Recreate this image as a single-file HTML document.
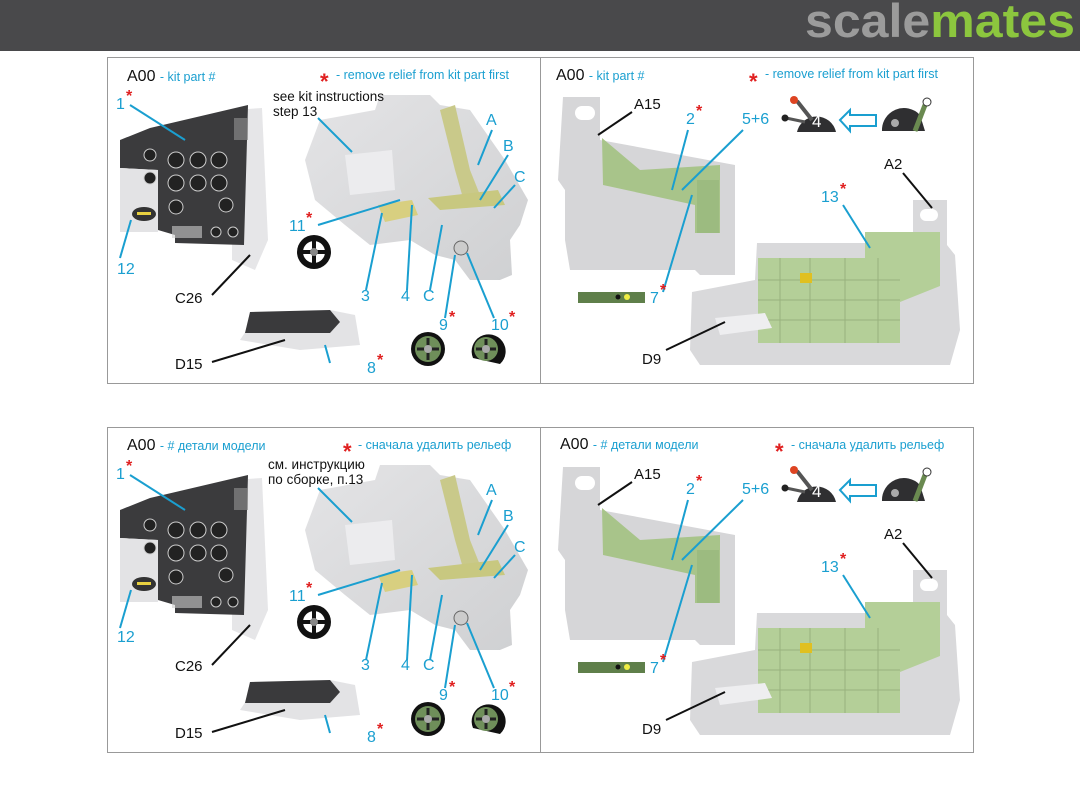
<!DOCTYPE html>
<html><head><meta charset="utf-8"><style>
html,body{margin:0;padding:0;background:#fff;width:1080px;height:810px;overflow:hidden}
svg{display:block}
text{font-family:"Liberation Sans","DejaVu Sans",sans-serif}
.c{fill:#1a9fd0;font-size:16px}
.s{fill:#1a9fd0;font-size:12.5px}
.k{fill:#111;font-size:15px}
.r{fill:#e02020;font-size:16px;font-weight:bold}
.h{fill:#111;font-size:16px}
.lb{stroke:#1a9fd0;stroke-width:2;fill:none}
.lk{stroke:#111;stroke-width:2;fill:none}
</style></head><body>
<svg width="1080" height="810" viewBox="0 0 1080 810" xmlns="http://www.w3.org/2000/svg">
<defs>
<linearGradient id="gg" x1="0" y1="0" x2="1" y2="1"><stop offset="0" stop-color="#e4e4e6"/><stop offset="1" stop-color="#cfd0d2"/></linearGradient>
<g id="art">
 <path d="M232,110 L262,108 L268,240 L255,270 L232,260 Z" fill="#e6e6e8"/>
 <path d="M248,105 L244,245 L175,243 L175,235 L158,230 L158,170 L120,168 L120,140 L150,128 Z" fill="#3b3b3d"/>
 <path d="M120,168 L158,170 L158,232 L120,232 Z" fill="#e3e3e5"/>
 <ellipse cx="144" cy="214" rx="12" ry="7" fill="#333"/><rect x="137" y="212" width="14" height="3" fill="#e8d040"/>
 <g fill="#222" stroke="#ccc" stroke-width="1">
  <circle cx="176" cy="160" r="8"/><circle cx="198" cy="160" r="8"/><circle cx="219" cy="160" r="8"/>
  <circle cx="176" cy="183" r="8"/><circle cx="198" cy="183" r="8"/><circle cx="219" cy="183" r="8"/>
  <circle cx="150" cy="155" r="6"/><circle cx="150" cy="178" r="6"/><circle cx="176" cy="207" r="7"/><circle cx="226" cy="205" r="7"/>
  <circle cx="216" cy="232" r="5"/><circle cx="233" cy="232" r="5"/>
 </g>
 <rect x="172" y="226" width="30" height="12" fill="#ccc" opacity=".6"/>
 <rect x="234" y="118" width="14" height="22" fill="#888" opacity=".7"/>
 <path d="M320,120 L375,110 L380,95 L430,95 L440,105 L470,110 L505,160 L528,200 L520,225 L510,240 L512,275 L500,280 L470,280 L455,260 L435,255 L410,240 L370,245 L345,225 L315,200 L305,160 Z" fill="url(#gg)"/>
 <path d="M345,155 L392,150 L395,190 L350,195 Z" fill="#ececee"/>
 <path d="M378,205 L412,200 L418,215 L385,222 Z" fill="#d8cf80"/>
 <path d="M440,110 L455,105 L470,170 L482,200 L465,205 L455,170 Z" fill="#c9c98a"/>
 <path d="M428,198 L498,190 L505,205 L440,210 Z" fill="#c8c880"/>
 <circle cx="461" cy="248" r="7" fill="#ccc" stroke="#666"/>
 <circle cx="314" cy="252" r="17" fill="#111"/><circle cx="314" cy="252" r="11" fill="#fff"/><path d="M303,252h22M314,241v22" stroke="#111" stroke-width="4"/><circle cx="314" cy="252" r="4" fill="#888"/>
 <circle cx="428" cy="349" r="17" fill="#111"/><circle cx="428" cy="349" r="13" fill="#6f8f5a"/><path d="M417,349h22M428,338v22" stroke="#222" stroke-width="3"/><circle cx="428" cy="349" r="4" fill="#aaa"/>
 <path d="M473,358 A17,17 0 1 1 500,364 Z" fill="#111"/><circle cx="486" cy="349" r="12" fill="#6f8f5a"/><path d="M476,349h20M486,339v20" stroke="#222" stroke-width="3"/><circle cx="486" cy="349" r="4" fill="#aaa"/>
 <path d="M250,325 L330,310 L355,315 L360,345 L300,350 L240,340 Z" fill="#e3e3e5"/>
 <path d="M250,312 L330,310 L340,322 L330,333 L245,333 Z" fill="#3a3a3c"/>
 <path d="M563,97 L600,97 L600,140 L735,165 L735,275 L700,275 L695,270 L570,270 L565,240 L565,190 L558,180 Z" fill="#d6d6d8"/>
 <rect x="575" y="106" width="20" height="14" rx="7" fill="#fff"/>
 <path d="M602,138 L640,170 L720,165 L720,233 L695,233 L695,205 L603,185 Z" fill="#a8c48a"/>
 <rect x="697" y="180" width="22" height="53" fill="#9cbb80"/>
 <rect x="578" y="292" width="67" height="11" fill="#5f7f4a"/><circle cx="618" cy="297" r="2.5" fill="#111"/><circle cx="627" cy="297" r="3" fill="#ee4"/>
 <path d="M797,132 A20,20 0 0 1 836,132 Z" fill="#2f2f31"/><path d="M797,101 L812,120" stroke="#555" stroke-width="4"/><circle cx="794" cy="100" r="4" fill="#d42"/><path d="M786,118 L805,122" stroke="#555" stroke-width="3"/><circle cx="785" cy="118" r="3.5" fill="#222"/>
 <path d="M840,120 L850,110 L850,115 L876,115 L876,126 L850,126 L850,131 Z" fill="#fff" stroke="#1a9fd0" stroke-width="2"/>
 <path d="M882,131 A22,22 0 0 1 920,115 L925,131 Z" fill="#2f2f31"/><path d="M915,131 L925,105" stroke="#6a8a50" stroke-width="5"/><circle cx="927" cy="102" r="4" fill="#fff" stroke="#333"/><circle cx="895" cy="123" r="4" fill="#aaa"/>
 <path d="M913,200 L947,200 L947,245 L955,255 L960,330 L950,365 L700,365 L690,350 L692,292 L755,280 L757,243 L913,243 Z" fill="#d9d9db"/>
 <rect x="920" y="209" width="18" height="12" rx="6" fill="#fff"/>
 <path d="M865,232 L940,232 L940,286 L900,302 L900,343 L758,343 L758,258 L865,258 Z" fill="#b4cf98"/>
 <g stroke="#98b27e" stroke-width="1"><path d="M758,280h142M758,300h142M758,320h142M780,258v85M810,258v85M845,258v85M878,258v85"/></g>
 <rect x="800" y="273" width="12" height="10" fill="#e0c020"/>
 <path d="M715,318 L765,313 L772,328 L720,335 Z" fill="#eeeef0"/>
</g>
</defs>

<rect x="0" y="0" width="1080" height="51" fill="#49494b"/>
<text x="805" y="37" textLength="270" lengthAdjust="spacingAndGlyphs" style="font-size:47px;font-weight:bold" fill="#9b9b9b">scale<tspan fill="#8cc63e">mates</tspan></text>

<rect x="107.5" y="57.5" width="866" height="326" fill="#fff" stroke="#999"/>
<line x1="540.5" y1="57" x2="540.5" y2="383" stroke="#999"/>
<rect x="107.5" y="427.5" width="866" height="325" fill="#fff" stroke="#999"/>
<line x1="540.5" y1="427" x2="540.5" y2="752" stroke="#999"/>

<use href="#art"/>
<use href="#art" y="370"/>

<g id="lines">
 <path class="lb" d="M130,105 L185,140"/><path class="lb" d="M131,220 L120,258"/>
 <path class="lk" d="M212,295 L250,255"/><path class="lk" d="M212,362 L285,340"/>
 <path class="lb" d="M330,363 L325,345"/><path class="lb" d="M318,225 L400,200"/>
 <path class="lb" d="M366,290 L382,213"/><path class="lb" d="M407,290 L412,205"/>
 <path class="lb" d="M430,290 L442,225"/><path class="lb" d="M445,318 L455,255"/><path class="lb" d="M494,318 L467,253"/>
 <path class="lb" d="M352,152 L318,118"/><path class="lb" d="M478,165 L492,130"/><path class="lb" d="M480,200 L508,155"/><path class="lb" d="M494,208 L515,185"/>
 <path class="lk" d="M598,135 L632,112"/><path class="lb" d="M672,190 L688,130"/><path class="lb" d="M682,190 L743,130"/>
 <path class="lb" d="M663,292 L692,195"/><path class="lb" d="M843,205 L870,248"/><path class="lk" d="M903,173 L932,208"/>
 <path class="lk" d="M666,350 L725,322"/>
</g>
<use href="#lines" y="370"/>

<text x="127" y="81" class="h">A00 <tspan class="s">- kit part #</tspan></text>
<text x="320" y="89" class="r" style="font-size:22px">*</text><text x="336" y="79" class="s">- remove relief from kit part first</text>
<text x="116" y="109" class="c">1</text><text x="126" y="101" class="r">*</text>
<text x="117" y="274" class="c">12</text>
<text x="175" y="303" class="k">C26</text>
<text x="175" y="369" class="k">D15</text>
<text x="273" y="101" class="k" style="font-size:13.5px">see kit instructions</text>
<text x="273" y="116" class="k" style="font-size:13.5px">step 13</text>
<text x="486" y="125" class="c">A</text><text x="503" y="151" class="c">B</text><text x="514" y="182" class="c">C</text>
<text x="289" y="231" class="c">11</text><text x="306" y="223" class="r">*</text>
<text x="361" y="301" class="c">3</text><text x="401" y="301" class="c">4</text><text x="423" y="301" class="c">C</text>
<text x="439" y="330" class="c">9</text><text x="449" y="322" class="r">*</text>
<text x="491" y="330" class="c">10</text><text x="509" y="322" class="r">*</text>
<text x="367" y="373" class="c">8</text><text x="377" y="365" class="r">*</text>
<text x="556" y="80" class="h">A00 <tspan class="s">- kit part #</tspan></text>
<text x="749" y="89" class="r" style="font-size:22px">*</text><text x="765" y="78" class="s">- remove relief from kit part first</text>
<text x="634" y="109" class="k">A15</text>
<text x="686" y="124" class="c">2</text><text x="696" y="116" class="r">*</text>
<text x="742" y="124" class="c">5+6</text>
<text x="812" y="127" fill="#fff" style="font-size:17px">4</text>
<text x="650" y="303" class="c">7</text><text x="660" y="295" class="r">*</text>
<text x="821" y="202" class="c">13</text><text x="840" y="194" class="r">*</text>
<text x="884" y="169" class="k">A2</text>
<text x="642" y="364" class="k">D9</text>

<text x="127" y="450" class="h">A00 <tspan class="s">- # детали модели</tspan></text>
<text x="343" y="459" class="r" style="font-size:22px">*</text><text x="358" y="449" class="s">- сначала удалить рельеф</text>
<text x="116" y="479" class="c">1</text><text x="126" y="471" class="r">*</text>
<text x="117" y="642" class="c">12</text>
<text x="175" y="671" class="k">C26</text>
<text x="175" y="738" class="k">D15</text>
<text x="268" y="469" class="k" style="font-size:13.5px">см. инструкцию</text>
<text x="268" y="484" class="k" style="font-size:13.5px">по сборке, п.13</text>
<text x="486" y="495" class="c">A</text><text x="503" y="521" class="c">B</text><text x="514" y="552" class="c">C</text>
<text x="289" y="601" class="c">11</text><text x="306" y="593" class="r">*</text>
<text x="361" y="670" class="c">3</text><text x="401" y="670" class="c">4</text><text x="423" y="670" class="c">C</text>
<text x="439" y="700" class="c">9</text><text x="449" y="692" class="r">*</text>
<text x="491" y="700" class="c">10</text><text x="509" y="692" class="r">*</text>
<text x="367" y="742" class="c">8</text><text x="377" y="734" class="r">*</text>
<text x="560" y="449" class="h">A00 <tspan class="s">- # детали модели</tspan></text>
<text x="775" y="459" class="r" style="font-size:22px">*</text><text x="791" y="449" class="s">- сначала удалить рельеф</text>
<text x="634" y="479" class="k">A15</text>
<text x="686" y="494" class="c">2</text><text x="696" y="486" class="r">*</text>
<text x="742" y="494" class="c">5+6</text>
<text x="812" y="497" fill="#fff" style="font-size:17px">4</text>
<text x="650" y="673" class="c">7</text><text x="660" y="665" class="r">*</text>
<text x="821" y="572" class="c">13</text><text x="840" y="564" class="r">*</text>
<text x="884" y="539" class="k">A2</text>
<text x="642" y="734" class="k">D9</text>
</svg>
</body></html>
